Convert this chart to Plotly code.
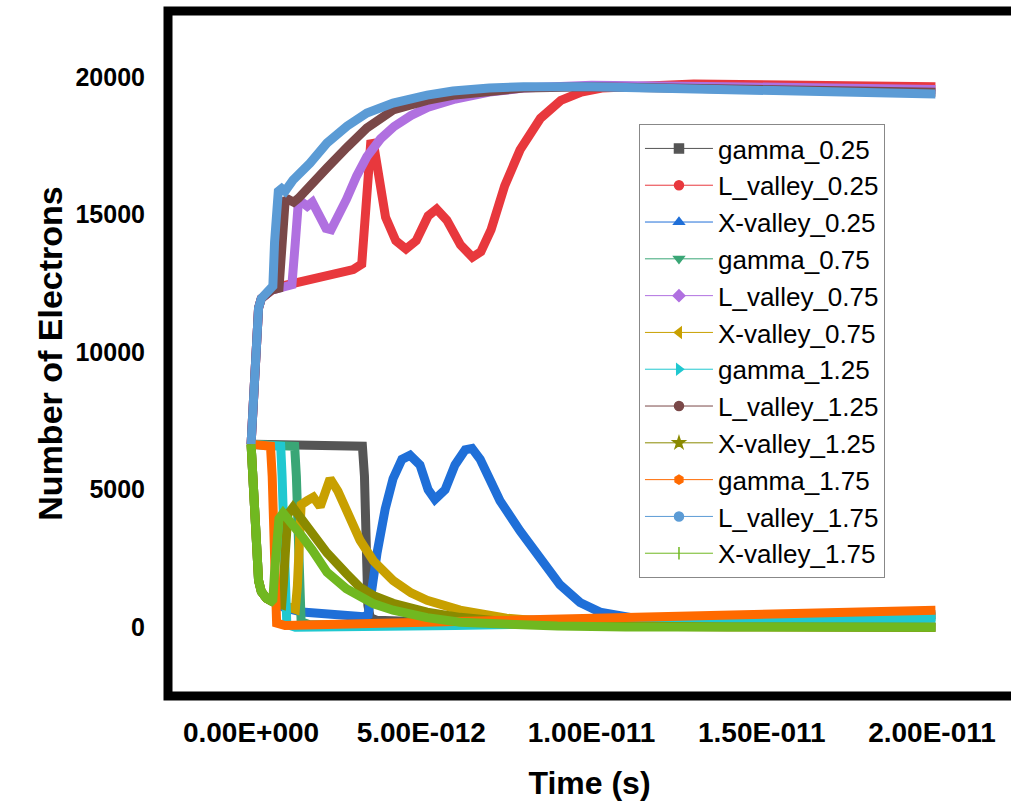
import plotly.graph_objects as go

# ---------------- axis ticks ----------------
x_tickvals = [0, 5, 10, 15, 20]          # picoseconds
x_ticktext = ["0.00E+000", "5.00E-012", "1.00E-011", "1.50E-011", "2.00E-011"]
y_tickvals = [0, 5000, 10000, 15000, 20000]
y_ticktext = ["0", "5000", "10000", "15000", "20000"]

# ---------------- series (time in ps, number of electrons) ----------------
t_g025 = [0, 3.15, 3.27, 3.33, 3.38, 3.43, 3.5, 3.7, 5.0, 8.0, 12.0, 16.0, 20.1]
n_g025 = [6650, 6650, 6580, 5500, 3000, 800, 350, 250, 200, 250, 330, 400, 450]

t_L025 = [0, 0.05, 0.1, 0.15, 0.22, 0.3, 0.45, 0.6, 0.9, 1.5, 2.0, 2.5, 3.0, 3.25,
          3.33, 3.42, 3.52, 3.62, 3.75, 3.95, 4.25, 4.55, 4.85, 5.2, 5.45, 5.75,
          6.15, 6.5, 6.75, 7.05, 7.45, 7.9, 8.5, 9.1, 9.7, 10.3, 13.0, 16.0, 20.1]
n_L025 = [6650, 8200, 9800, 10900, 11600, 11950, 12150, 12250, 12400, 12550, 12700, 12850, 13000, 13200,
          14500, 17000, 17700, 17400, 16300, 14900, 14050, 13750, 14050, 14950, 15200, 14800,
          13900, 13450, 13650, 14450, 16050, 17350, 18500, 19150, 19450, 19600, 19750, 19720, 19650]

t_X025 = [0, 0.05, 0.1, 0.15, 0.22, 0.3, 0.45, 0.6, 1.0, 1.5, 2.2, 2.8, 3.3,
          3.44, 3.55, 3.7, 3.94, 4.17, 4.43, 4.67, 4.96, 5.2, 5.4, 5.7, 5.99, 6.29, 6.49,
          6.73, 7.02, 7.31, 7.9, 8.49, 9.07, 9.66, 10.25, 11.72, 13.18, 16.12, 20.1]
n_X025 = [6650, 5100, 3500, 2400, 1700, 1300, 1050, 950, 700, 550, 470, 420, 380,
          450, 1500, 2700, 4300, 5400, 6100, 6250, 5900, 5000, 4650, 5000, 5900, 6450, 6500,
          6100, 5350, 4600, 3500, 2450, 1550, 900, 550, 230, 100, 30, 0]

t_g075 = [0, 1.2, 1.28, 1.33, 1.37, 1.41, 1.47, 1.7, 3.0, 6.0, 10.0, 15.0, 20.1]
n_g075 = [6650, 6650, 6580, 5500, 3000, 800, 200, 100, 80, 150, 250, 330, 380]

t_L075 = [0, 0.05, 0.1, 0.15, 0.22, 0.3, 0.45, 0.6, 0.9, 1.2, 1.3, 1.38, 1.5, 1.65, 1.8,
          2.0, 2.2, 2.35, 2.5, 2.8, 3.1, 3.4, 3.8, 4.2, 4.7, 5.2, 6.0, 7.0, 8.0, 10.0, 14.0, 20.1]
n_L075 = [6650, 8200, 9800, 10900, 11600, 11950, 12150, 12250, 12350, 12450, 14000, 15300, 15450, 15300, 15450,
          15000, 14500, 14450, 14800, 15550, 16400, 17100, 17750, 18200, 18600, 18900, 19200, 19450, 19600,
          19700, 19650, 19550]

t_X075 = [0, 0.05, 0.1, 0.15, 0.22, 0.3, 0.45, 0.6, 0.9, 1.2, 1.3, 1.36, 1.41, 1.47,
          1.65, 1.83, 2.03, 2.18, 2.32, 2.55, 2.82, 3.2, 3.6, 4.17, 4.7, 5.17,
          6.14, 7.5, 9.0, 11.0, 14.0, 20.1]
n_X075 = [6650, 5100, 3500, 2400, 1700, 1300, 1050, 950, 800, 700, 650, 1500, 3500, 4450,
          4600, 4730, 4380, 4900, 5400, 4950, 4250, 3160, 2400, 1700, 1250, 980,
          620, 330, 170, 80, 30, 0]

t_g125 = [0, 0.8, 0.87, 0.91, 0.95, 0.99, 1.05, 1.3, 3.0, 6.0, 10.0, 15.0, 20.1]
n_g125 = [6650, 6650, 6580, 5500, 3000, 800, 100, 0, 0, 60, 160, 260, 330]

t_L125 = [0, 0.05, 0.1, 0.15, 0.22, 0.3, 0.45, 0.6, 0.82, 0.88, 0.94, 1.0, 1.1, 1.25, 1.4,
          1.73, 2.23, 2.82, 3.4, 4.17, 5.17, 6.0, 7.0, 8.0, 10.0, 14.0, 20.1]
n_L125 = [6650, 8200, 9800, 10900, 11600, 11950, 12150, 12250, 12320, 13500, 15000, 15500, 15550, 15450, 15600,
          16000, 16700, 17450, 18150, 18800, 19150, 19350, 19500, 19600, 19650, 19600, 19450]

t_X125 = [0, 0.05, 0.1, 0.15, 0.22, 0.3, 0.45, 0.6, 0.8, 0.9, 0.95, 1.0, 1.08, 1.23,
          1.5, 1.8, 2.23, 2.8, 3.2, 3.6, 4.17, 5.17, 6.14, 7.5, 9.0, 11.0, 14.0, 20.1]
n_X125 = [6650, 5100, 3500, 2400, 1700, 1300, 1050, 950, 850, 820, 1600, 3300, 4100, 4350,
          3900, 3400, 2700, 1950, 1450, 1150, 870, 550, 360, 200, 100, 40, 10, 0]

t_g175 = [0, 0.5, 0.57, 0.62, 0.66, 0.7, 0.75, 1.0, 2.0, 5.0, 10.0, 15.0, 20.1]
n_g175 = [6650, 6650, 6580, 5500, 3000, 800, 150, 60, 90, 180, 330, 470, 620]

t_L175 = [0, 0.05, 0.1, 0.15, 0.22, 0.3, 0.45, 0.6, 0.64, 0.69, 0.74, 0.8, 0.9, 1.0,
          1.23, 1.5, 1.73, 2.23, 2.82, 3.4, 4.17, 5.17, 5.93, 7.0, 8.0, 10.0, 14.0, 20.1]
n_L175 = [6650, 8200, 9800, 10900, 11600, 11950, 12150, 12250, 12400, 14000, 15600, 15850, 15950, 15850,
          16250, 16550, 16870, 17600, 18220, 18690, 19050, 19340, 19490, 19600, 19650, 19650, 19550, 19380]

t_X175 = [0, 0.05, 0.1, 0.15, 0.22, 0.3, 0.45, 0.6, 0.64, 0.69, 0.75, 0.82, 0.94, 1.2,
          1.5, 1.8, 2.23, 2.8, 3.2, 3.6, 4.17, 5.17, 6.14, 7.5, 9.0, 11.0, 14.0, 20.1]
n_X175 = [6650, 5100, 3500, 2400, 1700, 1300, 1050, 950, 1000, 2000, 3300, 3950, 4150, 3800,
          3300, 2800, 2000, 1400, 1090, 850, 620, 350, 180, 80, 40, 10, 0, 0]

series_names = ["gamma_0.25", "L_valley_0.25", "X-valley_0.25",
                "gamma_0.75", "L_valley_0.75", "X-valley_0.75",
                "gamma_1.25", "L_valley_1.25", "X-valley_1.25",
                "gamma_1.75", "L_valley_1.75", "X-valley_1.75"]
series_t = [t_g025, t_L025, t_X025, t_g075, t_L075, t_X075,
            t_g125, t_L125, t_X125, t_g175, t_L175, t_X175]
series_n = [n_g025, n_L025, n_X025, n_g075, n_L075, n_X075,
            n_g125, n_L125, n_X125, n_g175, n_L175, n_X175]
colors = ["#555555", "#e8383d", "#1f6fd8",
          "#3aa676", "#b070e0", "#c8a000",
          "#20c8d0", "#7a4848", "#8a8a00",
          "#ff6a00", "#5b9bd5", "#70b820"]
symbols = ["square", "circle", "triangle-up",
           "triangle-down", "diamond", "triangle-left",
           "triangle-right", "circle", "star",
           "hexagon", "circle", "line-ns"]

FONT = "Liberation Sans, Arial, sans-serif"

fig = go.Figure()
for name, t, n, c in zip(series_names, series_t, series_n, colors):
    fig.add_trace(go.Scatter(x=t, y=n, mode="lines", name=name, showlegend=False,
                             line=dict(color=c, width=9), hoverinfo="skip"))
for name, c, s in zip(series_names, colors, symbols):
    fig.add_trace(go.Scatter(x=[None], y=[None], mode="lines+markers", name=name,
                             line=dict(color=c, width=1),
                             marker=dict(color=c, symbol=s, size=9,
                                         line=dict(color=c, width=1.5))))

fig.update_layout(
    width=1011, height=811,
    margin=dict(l=168, r=0, t=11, b=115),
    paper_bgcolor="white", plot_bgcolor="white",
    font=dict(family=FONT, color="black"),
    showlegend=True,
    legend=dict(x=0.5587, y=0.835, xanchor="left", yanchor="top",
                bgcolor="white", bordercolor="#888888", borderwidth=1,
                font=dict(family=FONT, size=26, color="black"),
                itemwidth=68, tracegroupgap=0),
    xaxis=dict(range=[-2.44, 22.32], tickvals=x_tickvals, ticktext=x_ticktext,
               showgrid=False, zeroline=False, showline=False, ticks="",
               ticklabelstandoff=17,
               tickfont=dict(family=FONT, size=28, color="black", weight="bold"),
               title=dict(text="Time (s)", standoff=24,
                          font=dict(family=FONT, size=32, color="black", weight="bold"))),
    yaxis=dict(range=[-2500, 22400], tickvals=y_tickvals, ticktext=y_ticktext,
               showgrid=False, zeroline=False, showline=False, ticks="",
               ticklabelstandoff=22,
               tickfont=dict(family=FONT, size=25, color="black", weight="bold"),
               title=dict(text="Number of Electrons", standoff=2,
                          font=dict(family=FONT, size=34, color="black", weight="bold"))),
    shapes=[dict(type="path", xref="paper", yref="paper",
                 path="M 1.02,1 L 0,1 L 0,0 L 1.02,0",
                 line=dict(color="black", width=9), layer="above")],
)

fig.write_html("out.html")
